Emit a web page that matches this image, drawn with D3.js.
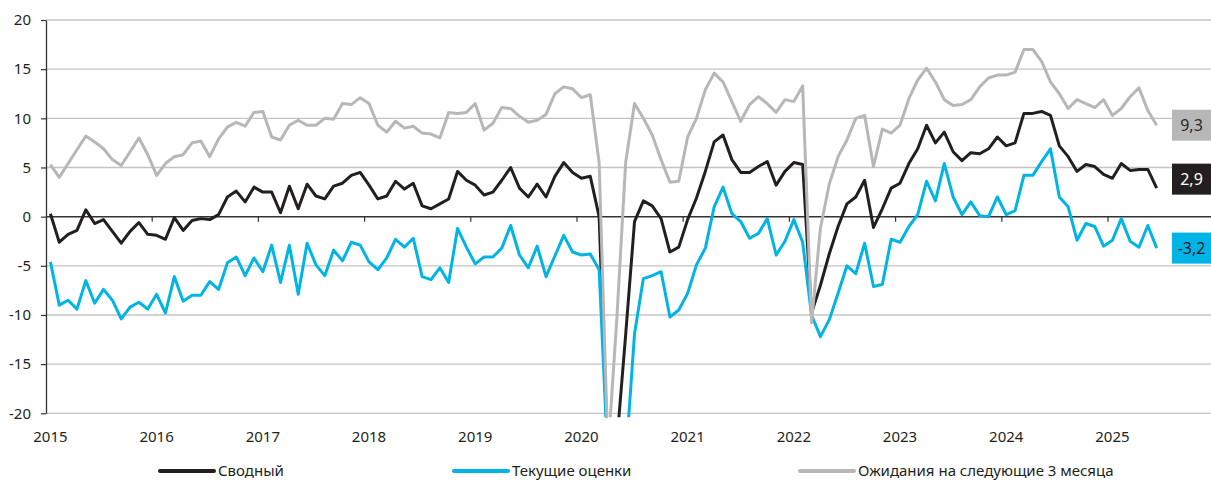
<!DOCTYPE html>
<html>
<head>
<meta charset="utf-8">
<script src="https://cdn.jsdelivr.net/npm/d3@7"></script>
<style>
  body { margin: 0; background: #fff; }
  svg { display: block; font-family: "Noto Sans", "Open Sans", sans-serif; }
</style>
</head>
<body>
<div id="chart"></div>
<script>
// monthly values, Jan 2015 .. Jun 2025
const years = ["2015", "2016", "2017", "2018", "2019", "2020", "2021", "2022", "2023", "2024", "2025"];
const yTicks = [-20, -15, -10, -5, 0, 5, 10, 15, 20];

const composite = [
  0.3, -2.6, -1.8, -1.4, 0.7, -0.7, -0.3, -1.5, -2.7, -1.5, -0.6, -1.8,
  -1.9, -2.3, -0.1, -1.4, -0.4, -0.2, -0.3, 0.2, 2.0, 2.6, 1.5, 3.0,
  2.5, 2.5, 0.4, 3.1, 0.8, 3.3, 2.1, 1.8, 3.1, 3.4, 4.2, 4.5,
  3.2, 1.8, 2.1, 3.6, 2.8, 3.4, 1.1, 0.8, 1.3, 1.8, 4.6, 3.7,
  3.2, 2.2, 2.5, 3.7, 5.0, 2.9, 2.0, 3.3, 2.0, 4.1, 5.5, 4.5,
  3.9, 4.1, 0.0, -25, -23, -12, -0.5, 1.6, 1.1, -0.2, -3.6, -3.1,
  -0.3, 1.9, 4.6, 7.6, 8.3, 5.8, 4.5, 4.5, 5.1, 5.6, 3.2, 4.6,
  5.5, 5.3, -9.8, -7.0, -3.8, -1.0, 1.3, 2.0, 3.7, -1.1, 0.8, 2.9,
  3.4, 5.4, 6.9, 9.3, 7.5, 8.6, 6.6, 5.7, 6.5, 6.4, 6.9, 8.1,
  7.2, 7.5, 10.5, 10.5, 10.7, 10.3, 7.2, 6.1, 4.6, 5.3, 5.1, 4.3,
  3.9, 5.4, 4.7, 4.8, 4.8, 2.9
];

const current = [
  -4.6, -9.0, -8.5, -9.4, -6.5, -8.8, -7.4, -8.5, -10.4, -9.2, -8.7, -9.4,
  -7.9, -9.8, -6.1, -8.6, -8.0, -8.0, -6.6, -7.4, -4.7, -4.1, -6.0, -4.2,
  -5.6, -2.9, -6.7, -2.9, -7.9, -2.7, -4.9, -6.0, -3.4, -4.5, -2.6, -2.9,
  -4.6, -5.4, -4.2, -2.3, -3.1, -2.2, -6.1, -6.4, -5.2, -6.7, -1.2, -3.1,
  -4.8, -4.1, -4.1, -3.2, -0.9, -3.9, -5.2, -3.0, -6.1, -4.0, -1.9, -3.6,
  -3.9, -3.8, -5.4, -25, -34, -24.8, -11.9, -6.3, -6.0, -5.6, -10.2, -9.5,
  -7.8, -4.9, -3.2, 1.0, 3.0, 0.3, -0.5, -2.2, -1.7, -0.2, -3.9, -2.5,
  -0.3, -2.6, -10.0, -12.2, -10.5, -7.8, -5.0, -5.8, -2.7, -7.1, -6.9, -2.3,
  -2.6, -1.0, 0.2, 3.6, 1.6, 5.4, 2.0, 0.2, 1.5, 0.1, 0.0, 2.0,
  0.2, 0.6, 4.2, 4.2, 5.6, 6.9, 2.0, 1.0, -2.4, -0.7, -1.0, -3.0,
  -2.4, -0.2, -2.5, -3.1, -0.9, -3.2
];

const expectations = [
  5.3, 4.0, 5.4, 6.8, 8.2, 7.6, 6.9, 5.8, 5.2, 6.6, 8.0, 6.3,
  4.2, 5.4, 6.1, 6.3, 7.5, 7.7, 6.1, 7.9, 9.1, 9.6, 9.2, 10.6,
  10.7, 8.1, 7.8, 9.3, 9.8, 9.3, 9.3, 10.0, 9.9, 11.5, 11.4, 12.1,
  11.5, 9.3, 8.6, 9.7, 9.0, 9.2, 8.5, 8.4, 8.0, 10.6, 10.5, 10.6,
  11.5, 8.8, 9.5, 11.1, 11.0, 10.2, 9.6, 9.8, 10.4, 12.5, 13.2, 13.0,
  12.1, 12.4, 5.5, -24, -10.4, 5.5, 11.5, 10.0, 8.3, 5.8, 3.5, 3.6,
  8.1, 10.0, 12.9, 14.6, 13.7, 11.7, 9.7, 11.4, 12.2, 11.5, 10.6, 11.9,
  11.7, 13.3, -10.8, -1.2, 3.3, 6.1, 7.8, 10.0, 10.3, 5.1, 8.9, 8.5,
  9.3, 12.0, 13.9, 15.1, 13.7, 11.9, 11.3, 11.4, 11.9, 13.2, 14.1, 14.4,
  14.4, 14.7, 17.0, 17.0, 15.8, 13.7, 12.5, 11.0, 11.9, 11.5, 11.1, 11.9,
  10.3, 11.0, 12.2, 13.1, 10.8, 9.3
];

const seriesNames = ["Сводный", "Текущие оценки", "Ожидания на следующие 3 месяца"];

const w = 1211;
const h = 483;
const padLeft = 46;
const padTop = 20;
const plotBottom = 413.3;
const monthW = 8.85;

const series = [
  { name: seriesNames[0], values: composite, color: "#231f20", boxText: "#fff", labelDy: -9 },
  { name: seriesNames[1], values: current, color: "#00b5e6", boxText: "#1a1a1a", labelDy: 0 },
  { name: seriesNames[2], values: expectations, color: "#b7b7b7", boxText: "#2a2a2a", labelDy: 0 }
];

const n = composite.length;

// decimal comma, plain hyphen for minus
const fmt = (v) => d3.format(".1f")(v).replace(".", ",").replace("\u2212", "-");

const svg = d3.select("#chart")
  .append("svg")
  .attr("width", w)
  .attr("height", h);

const x = d3.scaleLinear()
  .domain([0, n])
  .range([padLeft, padLeft + n * monthW]);

const y = d3.scaleLinear()
  .domain([-20, 20])
  .range([plotBottom, padTop]);

// grid
svg.append("g")
  .selectAll("line")
  .data(yTicks.filter(d => d !== 0))
  .enter()
  .append("line")
  .attr("x1", padLeft)
  .attr("x2", w)
  .attr("y1", d => y(d))
  .attr("y2", d => y(d))
  .attr("stroke", "#c4c4c4")
  .attr("stroke-width", 1.3);

// y axis
const yAxis = d3.axisLeft(y)
  .tickValues(yTicks)
  .tickSizeInner(5)
  .tickSizeOuter(0)
  .tickPadding(10)
  .tickFormat(d => String(d));

const yg = svg.append("g")
  .attr("transform", "translate(" + padLeft + ",0)")
  .call(yAxis);
yg.select(".domain").attr("stroke", "#333").attr("stroke-width", 1.3);
yg.selectAll(".tick line").attr("stroke", "#333").attr("stroke-width", 1.2);
yg.selectAll("text")
  .attr("font-size", 15)
  .attr("fill", "#231f20")
  .attr("font-family", "Noto Sans");

// zero line with year ticks
svg.append("line")
  .attr("x1", padLeft)
  .attr("x2", w)
  .attr("y1", y(0))
  .attr("y2", y(0))
  .attr("stroke", "#333")
  .attr("stroke-width", 1.5);

svg.append("g")
  .selectAll("line")
  .data(years.slice(1))
  .enter()
  .append("line")
  .attr("x1", (d, i) => x((i + 1) * 12))
  .attr("x2", (d, i) => x((i + 1) * 12))
  .attr("y1", y(0))
  .attr("y2", y(0) + 5)
  .attr("stroke", "#333")
  .attr("stroke-width", 1.2);

// year labels
svg.append("g")
  .selectAll("text")
  .data(years)
  .enter()
  .append("text")
  .text(d => d)
  .attr("x", (d, i) => x(i * 12 + 0.5))
  .attr("y", 441.5)
  .attr("text-anchor", "middle")
  .attr("font-size", 15)
  .attr("fill", "#231f20");

// lines
svg.append("clipPath")
  .attr("id", "plotClip")
  .append("rect")
  .attr("x", padLeft)
  .attr("y", padTop - 3)
  .attr("width", w - padLeft)
  .attr("height", plotBottom - padTop + 7);

const line = d3.line()
  .x((d, i) => x(i + 0.5))
  .y(d => y(d))
  .curve(d3.curveLinear);

svg.append("g")
  .attr("clip-path", "url(#plotClip)")
  .selectAll("path")
  .data(series)
  .enter()
  .append("path")
  .attr("d", d => line(d.values))
  .attr("fill", "none")
  .attr("stroke", d => d.color)
  .attr("stroke-width", 3)
  .attr("stroke-linejoin", "round");

// end labels
const boxW = 39;
const boxH = 31;
const labels = svg.append("g")
  .selectAll("g")
  .data(series)
  .enter()
  .append("g")
  .attr("transform", d => "translate(" + (w - boxW) + "," + (y(d.values[n - 1]) + d.labelDy) + ")");

labels.append("rect")
  .attr("x", 0)
  .attr("y", -boxH / 2)
  .attr("width", boxW)
  .attr("height", boxH)
  .attr("fill", d => d.color);

labels.append("text")
  .text(d => fmt(d.values[n - 1]))
  .attr("x", boxW / 2)
  .attr("y", 0)
  .attr("dy", "0.36em")
  .attr("text-anchor", "middle")
  .attr("font-size", 16)
  .attr("fill", d => d.boxText);

// legend
const legendX = [160, 454, 800];
const legend = svg.append("g")
  .selectAll("g")
  .data(series)
  .enter()
  .append("g")
  .attr("transform", (d, i) => "translate(" + legendX[i] + ",471)");

legend.append("line")
  .attr("x1", 0)
  .attr("x2", 54)
  .attr("stroke", d => d.color)
  .attr("stroke-width", 4)
  .attr("stroke-linecap", "round");

legend.append("text")
  .text(d => d.name)
  .attr("x", 58)
  .attr("dy", "0.35em")
  .attr("font-size", 15)
  .attr("fill", "#231f20");
</script>
</body>
</html>
